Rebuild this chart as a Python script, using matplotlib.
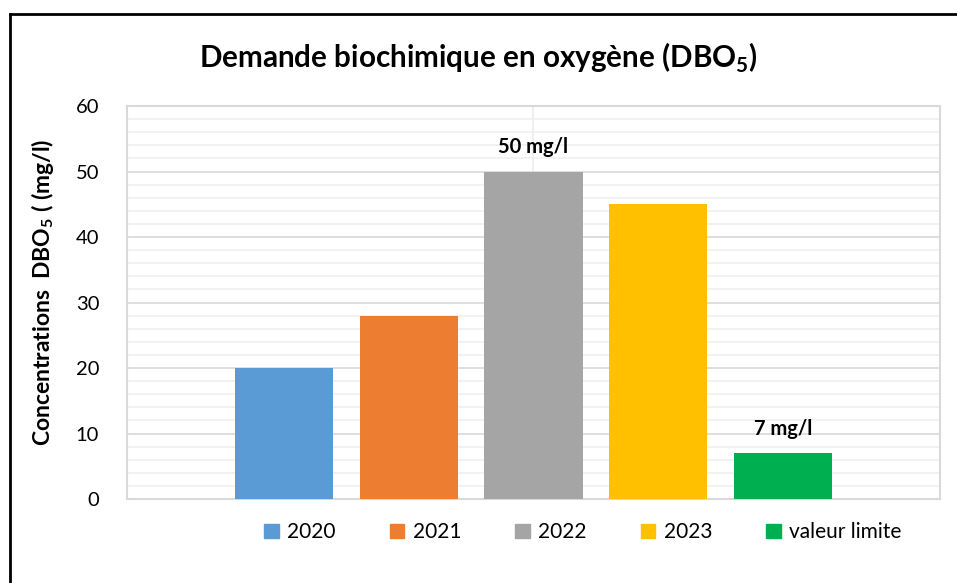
import matplotlib
matplotlib.use("Agg")
import matplotlib.pyplot as plt
from matplotlib.lines import Line2D
from matplotlib.patches import Patch

plt.rcParams['font.family'] = ['Lato', 'DejaVu Sans']
plt.rcParams['mathtext.fontset'] = 'custom'
plt.rcParams['mathtext.rm'] = 'Lato'
plt.rcParams['mathtext.bf'] = 'Lato:bold'

series = ['2020', '2021', '2022', '2023', 'valeur limite']
values = [20, 28, 50, 45, 7]
colors = ['#5b9bd5', '#ed7d31', '#a5a5a5', '#ffc000', '#00b050']
labels = {2: '50 mg/l', 4: '7 mg/l'}

fig = plt.figure(figsize=(9.57, 5.83), dpi=100)
ax = fig.add_axes([0.1327, 0.1441, 0.8495, 0.6739])

pos = list(range(len(values)))
ax.bar(pos, values, width=0.79, color=colors, zorder=3)
for i, txt in labels.items():
    ax.text(pos[i], values[i] + 2.2, txt, ha='center', va='bottom',
            fontsize=14.5, fontweight='bold')

ax.set_xlim(-1.26, 5.26)
ax.set_ylim(0, 60)
ax.set_yticks(range(0, 61, 10))
ax.set_yticks(range(0, 61, 2), minor=True)
ax.grid(axis='y', which='major', color='#d9d9d9', lw=1.2, zorder=1)
ax.grid(axis='y', which='minor', color='#f0f0f0', lw=1.2, zorder=0)
ax.axvline(2, color='#ececec', lw=1.2, zorder=1)
ax.set_xticks([])
ax.tick_params(axis='y', which='both', length=0, labelsize=14.5, pad=20)
for s in ax.spines.values():
    s.set_color('#d9d9d9')
    s.set_linewidth(1.5)

ax.set_ylabel(r'Concentrations  DBO$_\mathbf{5}$ ( (mg/l)', fontsize=16.5,
              fontweight='bold')
ax.yaxis.set_label_coords(-0.087, 0.527)

fig.text(0.5, 0.9, r'Demande biochimique en oxygène (DBO$_\mathbf{5}$)',
         ha='center', va='center', fontsize=21.3, fontweight='bold')

handles = [Patch(color=c) for c in colors]
fig.legend(handles, series, loc='center', bbox_to_anchor=(0.609, 0.087),
           ncol=5, frameon=False, fontsize=15, handlelength=0.7,
           handleheight=0.7, handletextpad=0.4, columnspacing=2.6)

# chart frame (only left and top edges fall inside the picture)
fig.add_artist(Line2D([0.0105, 0.0105], [0, 0.976], color='black', lw=2,
                      transform=fig.transFigure))
fig.add_artist(Line2D([0.0105, 1], [0.976, 0.976], color='black', lw=2,
                      transform=fig.transFigure))

fig.savefig('out.png', dpi=100)
